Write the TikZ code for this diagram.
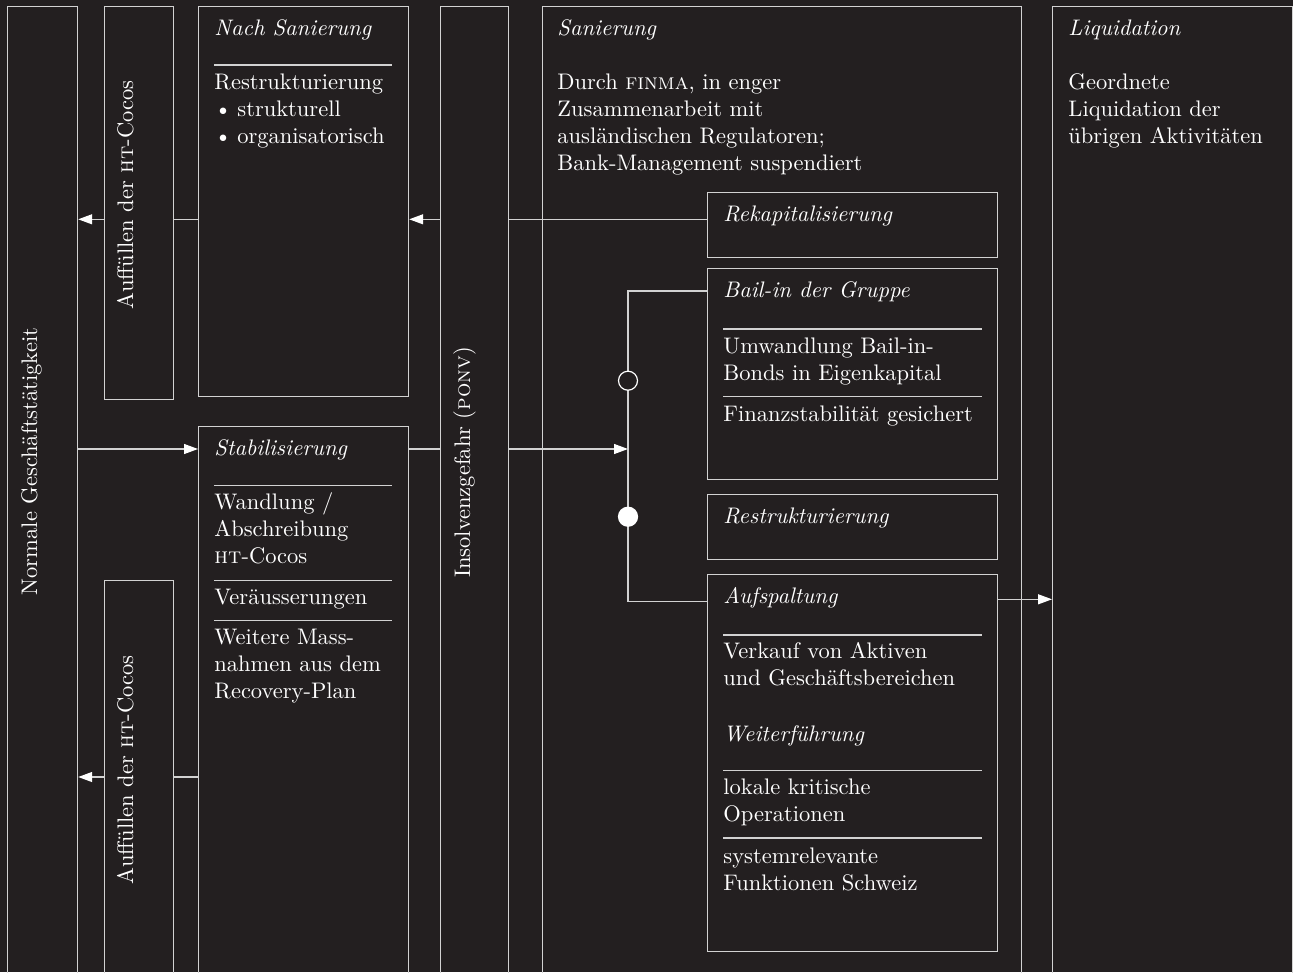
\documentclass[tikz,border=0pt]{standalone}
\usepackage{tikz}
\usetikzlibrary{arrows.meta}
\definecolor{bg}{HTML}{231F20}
\definecolor{linegray}{HTML}{D2D2D2}
\newcommand\diafont{\fontsize{10}{12}\selectfont}
\newcommand\lnstrut{\rule{0pt}{7.56pt}}
\tikzset{
    frame/.style={rectangle, draw=linegray, line width=1.2pt, inner sep=0pt, anchor=north west},
    txt/.style={text=white, font=\diafont, inner sep=0pt, scale=2.25, anchor=north west, align=left},
    head/.style={txt, font=\diafont\itshape},
    rot/.style={text=white, font=\diafont, inner sep=0pt, scale=2.25, rotate=90, anchor=base},
    sep/.style={draw=linegray, line width=1.2pt},
    link/.style={draw=linegray, line width=1.2pt},
    dot/.style={circle, draw=white, line width=1.2pt, minimum size=19pt, inner sep=0pt}
}
\begin{document}
\begin{tikzpicture}[x=1pt, y=1pt,
	>={Triangle[length=14pt,width=10pt,color=white]}]
	\fill[bg] (0,0) rectangle (1293,-972);
	\useasboundingbox (0,0) rectangle (1293,-972);
	% columns and boxes
	\node[frame, minimum width=70pt, minimum height=990pt] (normal) at (7,-6) {};
	\node[frame, minimum width=69pt, minimum height=393pt] (fill1) at (104,-6) {};
	\node[frame, minimum width=69pt, minimum height=410pt] (fill2) at (104,-580) {};
	\node[frame, minimum width=210pt, minimum height=390pt] (after) at (198,-6) {};
	\node[frame, minimum width=210pt, minimum height=560pt] (stab) at (198,-426) {};
	\node[frame, minimum width=68pt, minimum height=990pt] (ponv) at (440,-6) {};
	\node[frame, minimum width=479pt, minimum height=990pt] (rescue) at (542,-6) {};
	\node[frame, minimum width=290pt, minimum height=65pt] (rekap) at (707,-192) {};
	\node[frame, minimum width=290pt, minimum height=211pt] (bailin) at (707,-268) {};
	\node[frame, minimum width=290pt, minimum height=65pt] (restr) at (707,-494) {};
	\node[frame, minimum width=290pt, minimum height=377pt] (split) at (707,-574) {};
	\node[frame, minimum width=240pt, minimum height=990pt] (liqu) at (1052,-6) {};
	% vertical labels
	\node[rot] (normaltxt) at (37,-461.5) {Normale Geschäftstätigkeit};
	\node[rot] (fill1txt) at (133,-195) {Auffüllen der \textsc{ht}-Cocos};
	\node[rot] (fill2txt) at (133,-770) {Auffüllen der \textsc{ht}-Cocos};
	\node[rot] (ponvtxt) at (470,-462.5) {Insolvenzgefahr (\textsc{ponv})};
	% texts
	\node[head] (afterhead) at (214,-17.7) {\lnstrut Nach Sanierung};
	\node[txt] (afterbody) at (214,-72.3) {\lnstrut Restrukturierung\\
		\makebox[10.2pt][l]{\textbullet}strukturell\\
		\makebox[10.2pt][l]{\textbullet}organisatorisch};
	\node[head] (stabhead) at (214,-438) {\lnstrut Stabilisierung};
	\node[txt] (stabconv) at (214,-492) {\lnstrut Wandlung /\\Abschreibung\\\textsc{ht}-Cocos};
	\node[txt] (stabsale) at (214,-587) {\lnstrut Veräusserungen};
	\node[txt] (stabmore) at (214,-627) {\lnstrut Weitere Mass-\\nahmen aus dem\\Recovery-Plan};
	\node[head] (rescuehead) at (557,-18) {\lnstrut Sanierung};
	\node[txt] (rescuebody) at (557,-72) {\lnstrut Durch \textsc{finma}, in enger\\
		Zusammenarbeit mit\\ausländischen Regulatoren;\\Bank-Management suspendiert};
	\node[head] (rekaphead) at (723,-203.7) {\lnstrut Rekapitalisierung};
	\node[head] (bailinhead) at (723,-280) {\lnstrut Bail-in der Gruppe};
	\node[txt] (bailinconv) at (723,-336.5) {\lnstrut Umwandlung Bail-in-\\Bonds in Eigenkapital};
	\node[txt] (bailinsafe) at (723,-403.7) {\lnstrut Finanzstabilität gesichert};
	\node[head] (restrhead) at (723,-506.3) {\lnstrut Restrukturierung};
	\node[head] (splithead) at (723,-586.3) {\lnstrut Aufspaltung};
	\node[txt] (splitsale) at (723,-641.3) {\lnstrut Verkauf von Aktiven\\und Geschäftsbereichen};
	\node[head] (contihead) at (723,-724) {\lnstrut Weiterführung};
	\node[txt] (contilocal) at (723,-777.3) {\lnstrut lokale kritische\\Operationen};
	\node[txt] (contiswiss) at (723,-845.7) {\lnstrut systemrelevante\\Funktionen Schweiz};
	\node[head] (liquhead) at (1068,-17.7) {\lnstrut Liquidation};
	\node[txt] (liqubody) at (1068,-72.3) {\lnstrut Geordnete\\Liquidation der\\übrigen Aktivitäten};
	% separators
	\foreach \y in {65,485.7,580.7,620.7}
		\draw[sep] (214,-\y) -- (392,-\y);
	\foreach \y in {329,396.7,635,770.7,838}
		\draw[sep] (723,-\y) -- (982,-\y);
	% connectors
	\coordinate (r1) at ([yshift=-27.3pt]rekap.north west);
	\draw[link] (r1) -- (r1 -| ponv.east);
	\draw[link,->] (r1 -| ponv.west) -- (r1 -| after.east);
	\draw[link] (r1 -| after.west) -- (r1 -| fill1.east);
	\draw[link,->] (r1 -| fill1.west) -- (r1 -| normal.east);
	\coordinate (s1) at ([yshift=-23pt]stab.north west);
	\coordinate (hub) at (628,-449);
	\draw[link,->] (s1 -| normal.east) -- (s1);
	\draw[link] (s1 -| stab.east) -- (s1 -| ponv.west);
	\draw[link,->] (s1 -| ponv.east) -- (hub);
	\coordinate (b1) at ([yshift=-23pt]bailin.north west);
	\coordinate (b2) at ([yshift=-27.5pt]split.north west);
	\draw[link] (b1) -- (b1 -| hub) -- (b2 -| hub) -- (b2);
	\node[dot, fill=bg] (optional) at (628,-380.7) {};
	\node[dot, fill=white] (chosen) at (628,-516.7) {};
	\coordinate (a1) at ([yshift=-25.3pt]split.north east);
	\draw[link,->] (a1) -- (a1 -| liqu.west);
	\coordinate (s2) at (0,-777);
	\draw[link] (s2 -| stab.west) -- (s2 -| fill2.east);
	\draw[link,->] (s2 -| fill2.west) -- (s2 -| normal.east);
\end{tikzpicture}
\end{document}
